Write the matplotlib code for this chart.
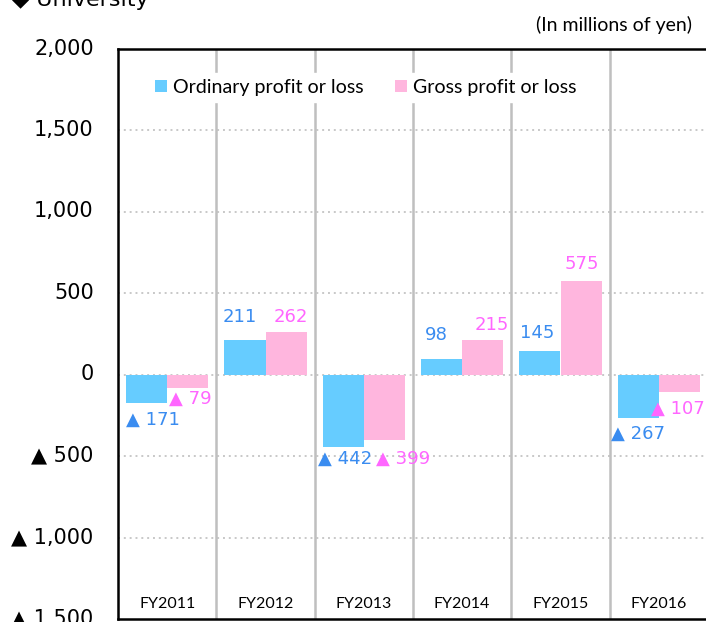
import matplotlib.pyplot as plt
import matplotlib.transforms as mtransforms

years = ["FY2011", "FY2012", "FY2013", "FY2014", "FY2015", "FY2016"]
ordinary = [-171, 211, -442, 98, 145, -267]
gross = [-79, 262, -399, 215, 575, -107]
y_ticks = [-1500, -1000, -500, 0, 500, 1000, 1500, 2000]

# label nudges in pixels (x, y of label centre from the bar end)
ord_off = [(6, -17), (-5, 23), (2, -12), (-5, 24), (-3, 18), (0, -16)]
gro_off = [(2, -11), (5, 15), (19, -19), (9, 15), (1, 17), (-2, -17)]

blue_bar = "#66CCFF"
pink_bar = "#FFB6DE"
blue_txt = "#3A8CF0"
pink_txt = "#FF66FF"

fig = plt.figure(figsize=(7.06, 6.22), dpi=100)
ax = fig.add_axes([118 / 706, 3 / 622, 590 / 706, 570 / 622])

x = list(range(len(years)))
w = 0.42
b1 = ax.bar([i - w / 2 for i in x], ordinary, w, color=blue_bar, label="Ordinary profit or loss", zorder=3)
b2 = ax.bar([i + w / 2 for i in x], gross, w, color=pink_bar, label="Gross profit or loss", zorder=3)

ax.set_xlim(-0.5, len(years) - 0.5)
ax.set_ylim(-1500, 2000)


def fmt(v):
    return f"{v:,}" if v >= 0 else f"▲ {-v:,}"


for bars, vals, offs, col in [(b1, ordinary, ord_off, blue_txt), (b2, gross, gro_off, pink_txt)]:
    for rect, v, (dx, dy) in zip(bars, vals, offs):
        ax.annotate(fmt(v), (rect.get_x() + rect.get_width() / 2, v),
                    xytext=(dx, dy), textcoords="offset pixels",
                    ha="center", va="center", fontsize=13, color=col, zorder=5)

# grid
for t in y_ticks[1:-1]:
    ax.axhline(t, color="#C8C8C8", lw=1.4, ls=(0, (1, 2)), zorder=1)
for i in range(1, len(years)):
    ax.axvline(i - 0.5, color="#BFBFBF", lw=1.8, zorder=2)

ax.set_yticks(y_ticks)
ax.set_yticklabels([fmt(t) for t in y_ticks], fontsize=15)
ax.set_xticks([])
ax.tick_params(axis="y", length=0, pad=17.5)
shift = mtransforms.ScaledTranslation(0, 2.5 / 100, fig.dpi_scale_trans)
for lab in ax.get_yticklabels():
    lab.set_transform(lab.get_transform() + shift)

for s in ["left", "bottom", "top"]:
    ax.spines[s].set_linewidth(1.8)
    ax.spines[s].set_color("black")
ax.spines["right"].set_visible(False)

trans = mtransforms.blended_transform_factory(ax.transData, ax.transAxes)
for i, yr in enumerate(years):
    ax.text(i, 0.027, yr, transform=trans, ha="center", va="center",
            fontsize=11.5, family="Lato", zorder=6)

leg = ax.legend(loc="upper left", bbox_to_anchor=(0.036, 0.975), ncol=2, frameon=True,
                fancybox=False, edgecolor="white", framealpha=1,
                prop={"family": "Lato", "size": 14.1}, handlelength=0.62, handleheight=0.62,
                handletextpad=0.3, columnspacing=1.62, borderpad=0.3)
leg.set_zorder(4)

fig.text(536 / 706, 1 - 25 / 622, "(In millions of yen)", ha="left", va="center",
         fontsize=14, family="Lato")
fig.text(12 / 706, 1 - 6 / 622, "◆ University", ha="left", va="baseline", fontsize=16)

fig.savefig("out.png", dpi=100)
